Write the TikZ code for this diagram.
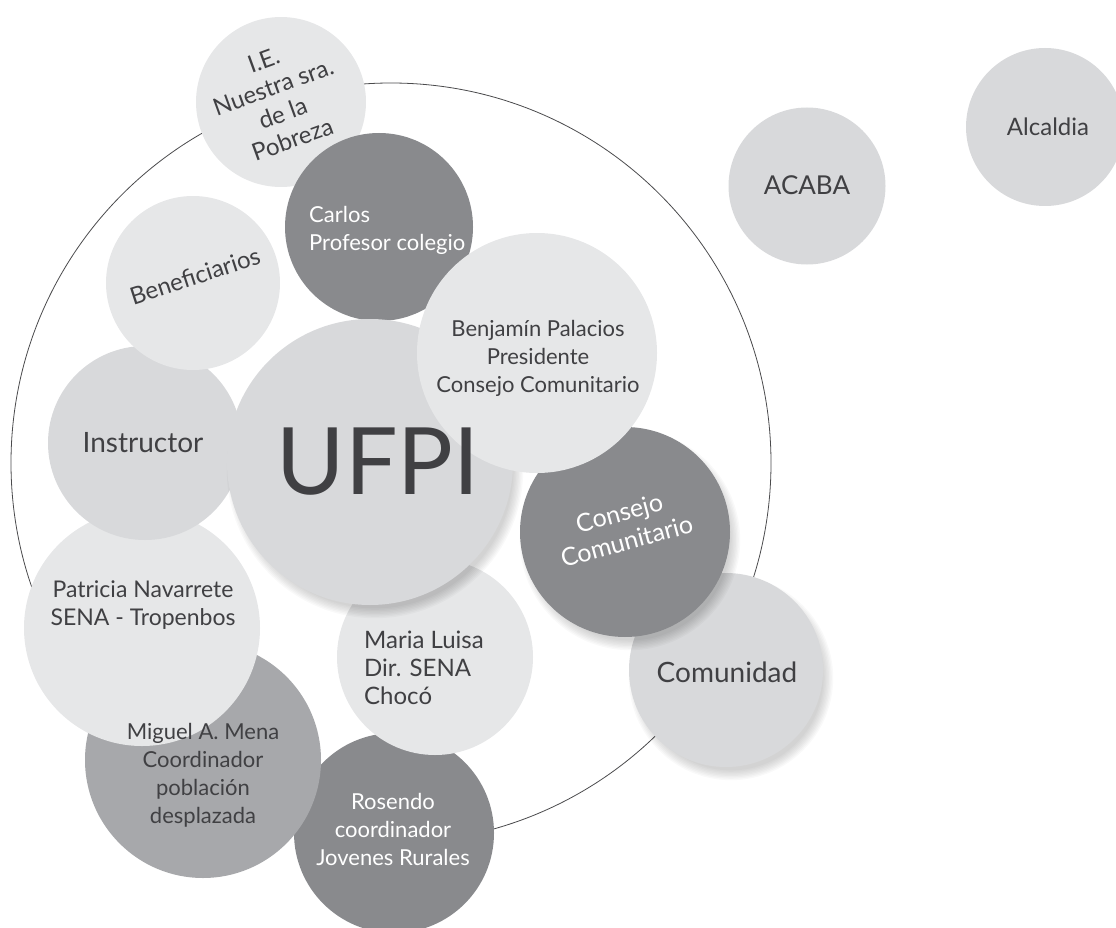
\documentclass[tikz,border=0pt]{standalone}
\usepackage{fontspec}
\setmainfont{Lato}
\definecolor{lightc}{HTML}{E6E7E8}
\definecolor{midlc}{HTML}{D8D9DB}
\definecolor{darkc}{HTML}{898A8D}
\definecolor{midc}{HTML}{A7A8AB}
\definecolor{txt}{HTML}{404043}
\definecolor{ring}{HTML}{4A4A4C}
\newcommand{\softshadow}[3]{%
  \foreach \k in {1,...,8}{\fill[black, opacity=0.022] (#1+5,#2+8) circle[radius={#3-6+\k*1.4}];}}
\tikzset{
  bub/.style={circle, inner sep=0pt, minimum size=#1},
  lbl/.style={font=\fontsize{22}{28}\selectfont, text=txt, align=center, inner sep=0pt},
  wlbl/.style={lbl, text=white},
  big/.style={lbl, font=\fontsize{28}{30}\selectfont},
}
\begin{document}
\begin{tikzpicture}[x=1pt, y=-1pt]
\useasboundingbox (0,0) rectangle (1116,928);
\node[bub=760pt, draw=ring, line width=0.8pt] (outer) at (391,463) {};
% circles in stacking order
\node[bub=200pt, fill=darkc] (c-ros) at (394,833) {};
\node[bub=236pt, fill=midc] (c-mig) at (203,760) {};
\node[bub=236pt, fill=lightc] (c-pat) at (142,628) {};
\node[bub=194pt, fill=midlc] (c-ins) at (145,443) {};
\node[bub=174pt, fill=lightc] (c-ben) at (193,283) {};
\node[bub=170pt, fill=lightc] (c-ie) at (281,102) {};
\node[bub=188pt, fill=darkc] (c-car) at (379,227) {};
\softshadow{726}{670}{97}
\node[bub=194pt, fill=midlc] (c-com) at (726,670) {};
\node[bub=196pt, fill=lightc] (c-mar) at (435,657) {};
\softshadow{370}{462}{143}
\node[bub=286pt, fill=midlc] (c-ufpi) at (370,462) {};
\softshadow{625}{532}{105}
\node[bub=210pt, fill=darkc] (c-con) at (625,532) {};
\node[bub=240pt, fill=lightc] (c-bpa) at (537,353) {};
\node[bub=157pt, fill=midlc] (c-aca) at (807,186) {};
\node[bub=158pt, fill=midlc] (c-alc) at (1045,127) {};
% labels
\node[lbl, font=\fontsize{93}{93}\selectfont] (t-ufpi) at (378,462) {UFPI};
\node[big] (t-ins) at (143,443) {Instructor};
\node[lbl, rotate=18, font=\fontsize{24}{28}\selectfont] (t-ben) at (195,276) {Beneficiarios};
\node[lbl, rotate=20, font=\fontsize{24}{28}\selectfont] (t-ie) at (278,100) {I.E.\\Nuestra sra.\\de la\\Pobreza};
\node[wlbl, anchor=west, align=left] (t-car) at (309,230) {Carlos\\Profesor colegio};
\node[lbl] (t-bpa) at (538,358) {Benjamín Palacios\\Presidente\\Consejo Comunitario};
\node[wlbl, rotate=15, font=\fontsize{25}{29}\selectfont] (t-con) at (623,527) {Consejo\\Comunitario};
\node[big] (t-com) at (727,672) {Comunidad};
\node[lbl, font=\fontsize{23}{28}\selectfont] (t-pat) at (143,605) {Patricia Navarrete\\SENA - Tropenbos};
\node[lbl, anchor=west, align=left, font=\fontsize{24}{28}\selectfont] (t-mar) at (364,668) {Maria Luisa\\Dir. SENA\\Chocó};
\node[lbl] (t-mig) at (203,775) {Miguel A. Mena\\Coordinador\\población\\desplazada};
\node[wlbl] (t-ros) at (393,829) {Rosendo\\coordinador\\Jovenes Rurales};
\node[big, font=\fontsize{26}{30}\selectfont] (t-aca) at (807,185) {ACABA};
\node[lbl, font=\fontsize{24}{28}\selectfont] (t-alc) at (1048,127) {Alcaldia};
\end{tikzpicture}
\end{document}
